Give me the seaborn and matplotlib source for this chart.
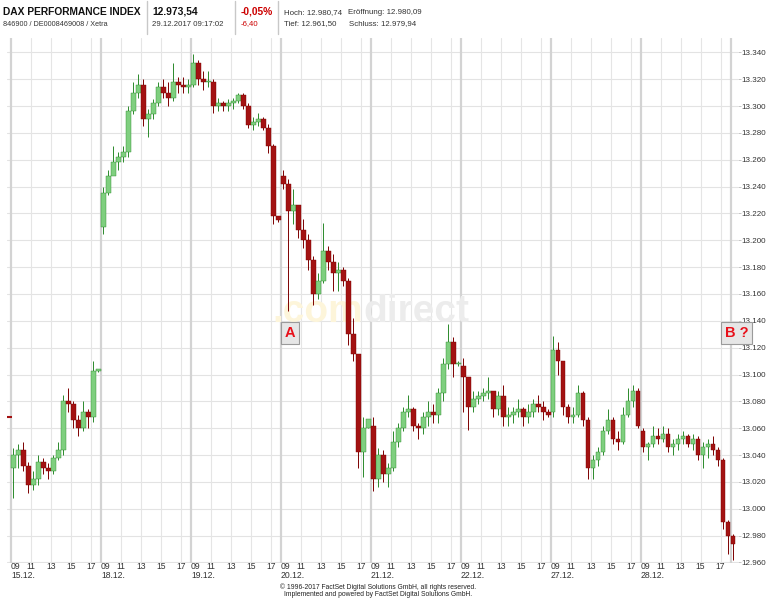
import numpy as np
import pandas as pd
import matplotlib
matplotlib.use("Agg")
import matplotlib.pyplot as plt
import matplotlib.transforms as mtransforms
from matplotlib.lines import Line2D
from matplotlib.ticker import FuncFormatter
import seaborn as sns

# --- data (30 minute candles, 9:00 - 18:00 per trading day) ---
days = ["15.12.", "18.12.", "19.12.", "20.12.", "21.12.", "22.12.", "27.12.", "28.12.", "29.12."]
hour_labels = ["09", "11", "13", "15", "17"]
y_ticks = list(range(12960, 13341, 20))
prev_close = 13068

day_open = [13030, 13210, 13316, 13248, 13062, 13106, 13072, 13058, 12980]

high_1512 = [13045, 13048, 13050, 13035, 13028, 13040, 13038, 13034, 13040, 13050, 13085, 13090, 13080, 13070, 13080, 13074, 13110, 13104]
low_1512 = [13008, 13030, 13028, 13012, 13014, 13018, 13026, 13022, 13026, 13036, 13040, 13072, 13060, 13054, 13058, 13060, 13065, 13102]
close_1512 = [13040, 13044, 13032, 13018, 13022, 13035, 13030, 13028, 13038, 13044, 13080, 13078, 13066, 13060, 13072, 13068, 13103, 13104]

high_1812 = [13240, 13252, 13270, 13266, 13270, 13300, 13318, 13324, 13320, 13298, 13305, 13318, 13320, 13318, 13332, 13322, 13322, 13320]
low_1812 = [13205, 13234, 13250, 13252, 13258, 13262, 13294, 13306, 13285, 13277, 13290, 13300, 13306, 13300, 13304, 13310, 13310, 13310]
close_1812 = [13235, 13248, 13258, 13262, 13266, 13296, 13310, 13316, 13290, 13294, 13302, 13314, 13310, 13306, 13318, 13316, 13314, 13316]

high_1912 = [13339, 13334, 13326, 13326, 13320, 13306, 13304, 13305, 13306, 13310, 13310, 13302, 13292, 13295, 13292, 13287, 13272, 13218]
low_1912 = [13314, 13316, 13312, 13314, 13295, 13296, 13296, 13296, 13298, 13302, 13298, 13284, 13282, 13285, 13282, 13265, 13212, 13214]
close_1912 = [13332, 13320, 13318, 13318, 13300, 13302, 13300, 13302, 13304, 13308, 13300, 13286, 13288, 13290, 13284, 13270, 13218, 13215]

high_2012 = [13252, 13246, 13238, 13226, 13216, 13205, 13188, 13176, 13213, 13196, 13190, 13184, 13180, 13172, 13142, 13115, 13068, 13067]
low_2012 = [13238, 13147, 13212, 13202, 13194, 13178, 13152, 13156, 13168, 13178, 13162, 13162, 13166, 13122, 13110, 13030, 13024, 13060]
close_2012 = [13242, 13222, 13226, 13208, 13200, 13185, 13160, 13170, 13192, 13184, 13176, 13178, 13170, 13130, 13115, 13042, 13060, 13067]

high_2112 = [13068, 13045, 13044, 13034, 13058, 13064, 13076, 13085, 13076, 13064, 13072, 13080, 13078, 13090, 13112, 13138, 13128, 13110]
low_2112 = [13013, 13016, 13020, 13016, 13028, 13046, 13058, 13068, 13058, 13052, 13056, 13062, 13064, 13064, 13080, 13104, 13098, 13106]
close_2112 = [13022, 13040, 13026, 13030, 13050, 13060, 13072, 13074, 13062, 13060, 13068, 13072, 13070, 13086, 13108, 13124, 13108, 13108]

high_2212 = [13112, 13095, 13088, 13088, 13090, 13098, 13086, 13088, 13092, 13076, 13076, 13082, 13076, 13078, 13082, 13085, 13080, 13074]
low_2212 = [13072, 13059, 13072, 13078, 13080, 13082, 13068, 13070, 13062, 13062, 13064, 13068, 13062, 13064, 13068, 13072, 13066, 13068]
close_2212 = [13098, 13076, 13082, 13084, 13086, 13088, 13074, 13084, 13068, 13070, 13072, 13074, 13068, 13072, 13078, 13076, 13072, 13070]

high_2712 = [13129, 13124, 13106, 13078, 13076, 13092, 13088, 13068, 13040, 13046, 13062, 13074, 13068, 13058, 13076, 13090, 13092, 13090]
low_2712 = [13068, 13100, 13070, 13064, 13064, 13068, 13062, 13022, 13022, 13032, 13040, 13056, 13048, 13044, 13048, 13068, 13076, 13060]
close_2712 = [13118, 13110, 13076, 13068, 13070, 13086, 13066, 13030, 13036, 13042, 13058, 13066, 13052, 13050, 13070, 13080, 13088, 13062]

high_2812 = [13060, 13050, 13062, 13060, 13062, 13060, 13052, 13056, 13058, 13056, 13056, 13054, 13050, 13052, 13054, 13046, 13038, 12992]
low_2812 = [13042, 13036, 13046, 13048, 13050, 13042, 13040, 13044, 13048, 13046, 13044, 13036, 13030, 13038, 13040, 13032, 12985, 12966]
close_2812 = [13046, 13048, 13054, 13052, 13056, 13046, 13048, 13052, 13054, 13048, 13052, 13040, 13046, 13048, 13044, 13036, 12990, 12980]

high_2912 = [12981]
low_2912 = [12962]
close_2912 = [12974]

highs = [high_1512, high_1812, high_1912, high_2012, high_2112, high_2212, high_2712, high_2812, high_2912]
lows = [low_1512, low_1812, low_1912, low_2012, low_2112, low_2212, low_2712, low_2812, low_2912]
closes = [close_1512, close_1812, close_1912, close_2012, close_2112, close_2212, close_2712, close_2812, close_2912]

DAY_LEN = 9.0   # hours shown per day
SLOT = 0.5      # candle length in hours

rows = []
for d, (op, hi, lo, cl) in enumerate(zip(day_open, highs, lows, closes)):
    prev = op
    for s, (h, l, c) in enumerate(zip(hi, lo, cl)):
        rows.append(dict(day=d, slot=s, open=prev, high=h, low=l, close=c))
        prev = c
df = pd.DataFrame(rows)
df["x"] = df["day"] * DAY_LEN + df["slot"] * SLOT + SLOT / 2
df["up"] = df["close"] >= df["open"]
body = df["close"] - df["open"]
body = body.where(body.abs() >= 0.8, 0.8)

UP_FACE, UP_EDGE = "#7fcf7f", "#2b8a2b"
DN_FACE, DN_EDGE = "#a31212", "#7c0000"

sns.set_style("white")
plt.rcParams["font.family"] = ["Liberation Sans", "DejaVu Sans"]

W, H = 768, 600
fig = plt.figure(figsize=(W / 100, H / 100), dpi=100)
ax = fig.add_axes([7 / W, 1 - 563 / H, 731 / W, 525 / H])

# grid
for d in range(len(days)):
    ax.axvline(d * DAY_LEN, color="#d3d3d3", lw=1.6, zorder=1)
    for h in (2, 4, 6, 8):
        if d < len(days) - 1:
            ax.axvline(d * DAY_LEN + h, color="#e5e5e5", lw=0.8, zorder=1)
ax.set_yticks(y_ticks)
ax.grid(axis="y", color="#e3e3e3", lw=0.8, zorder=1)
ax.set_axisbelow(True)

# watermark
ax.text(0.3625, 0.459, ".com", transform=ax.transAxes, fontsize=28, fontweight="bold",
        color="#fdf5da", ha="left", va="baseline", zorder=2)
ax.text(0.487, 0.459, "direct", transform=ax.transAxes, fontsize=28, fontweight="bold",
        color="#ececec", ha="left", va="baseline", zorder=2)

# previous close marker
ax.hlines(prev_close, -0.4, 0.1, color=DN_FACE, lw=1.5, zorder=4)

# candles
ax.vlines(df["x"], df["low"], df["high"],
          colors=np.where(df["up"], UP_EDGE, DN_EDGE), lw=0.7, zorder=3)
ax.bar(df["x"], body, bottom=df["open"], width=0.46,
       color=np.where(df["up"], UP_FACE, DN_FACE),
       edgecolor=np.where(df["up"], UP_EDGE, DN_EDGE), lw=0.3, zorder=4)

ax.set_xlim(-0.4, 72.74)
ax.set_ylim(12959.6, 13350.7)
ax.set_xticks([])
for sp in ax.spines.values():
    sp.set_visible(False)
ax.yaxis.tick_right()
ax.yaxis.set_major_formatter(FuncFormatter(lambda v, p: f"{v:,.0f}".replace(",", ".")))
ax.tick_params(axis="y", right=True, left=False, length=2, width=0.6, color="#bdbdbd",
               labelsize=5.8, pad=0.5, labelcolor="#333333")

# x labels
trans = mtransforms.blended_transform_factory(ax.transData, ax.transAxes)
for d, lab in enumerate(days[:-1]):
    for i, hl in enumerate(hour_labels):
        ax.annotate(hl, xy=(d * DAY_LEN + 2 * i, 0), xycoords=trans, xytext=(0, 1),
                    textcoords="offset points", ha="left" if i == 0 else "center",
                    va="top", fontsize=6.2, color="#333333", annotation_clip=False)
    ax.annotate(lab, xy=(d * DAY_LEN, 0), xycoords=trans, xytext=(0, -5.5),
                textcoords="offset points", ha="left", va="top", fontsize=6.2,
                color="#333333", annotation_clip=False)

# markers A and B
box = dict(boxstyle="square,pad=0.25", fc="#e6e6e6", ec="#9a9a9a", lw=0.8)
ax.text(27.9, 13131, "A", ha="center", va="center", fontsize=10.5, fontweight="bold",
        color="#e8101a", bbox=box, zorder=6, clip_on=False)
ax.text(72.6, 13131, "B ?", ha="center", va="center", fontsize=10.5, fontweight="bold",
        color="#e8101a", bbox=box, zorder=6, clip_on=False)

# header
def ftxt(x, y, s, **kw):
    fig.text(x / W, 1 - y / H, s, va="center", ha="left", **kw)

ftxt(3, 12, "DAX PERFORMANCE INDEX", fontsize=7.4, fontweight="bold", color="#111111")
ftxt(3, 24, "846900 / DE0008469008 / Xetra", fontsize=5.2, color="#333333")
ftxt(152, 12, "12.973,54", fontsize=7.4, fontweight="bold", color="#111111")
ftxt(152, 24, "29.12.2017 09:17:02", fontsize=5.6, color="#333333")
ftxt(241, 12, "-0,05%", fontsize=7.4, fontweight="bold", color="#cc0000")
ftxt(241, 24, "-6,40", fontsize=5.6, color="#cc0000")
ftxt(284, 13, "Hoch: 12.980,74", fontsize=5.7, color="#333333")
ftxt(348, 13, "Eröffnung: 12.980,09", fontsize=5.7, color="#333333")
ftxt(284, 24, "Tief: 12.961,50", fontsize=5.7, color="#333333")
ftxt(349, 24, "Schluss: 12.979,94", fontsize=5.7, color="#333333")
for xs in (147, 235, 278):
    fig.add_artist(Line2D([xs / W, xs / W], [1 - 1 / H, 1 - 34 / H], color="#c8c8c8", lw=1))

# footer
fig.text(378 / W, 1 - 587 / H, "© 1996-2017 FactSet Digital Solutions GmbH, all rights reserved.",
         ha="center", va="center", fontsize=4.9, color="#222222")
fig.text(378 / W, 1 - 595 / H, "Implemented and powered by FactSet Digital Solutions GmbH.",
         ha="center", va="center", fontsize=4.9, color="#222222")

fig.savefig("out.png", dpi=100)
